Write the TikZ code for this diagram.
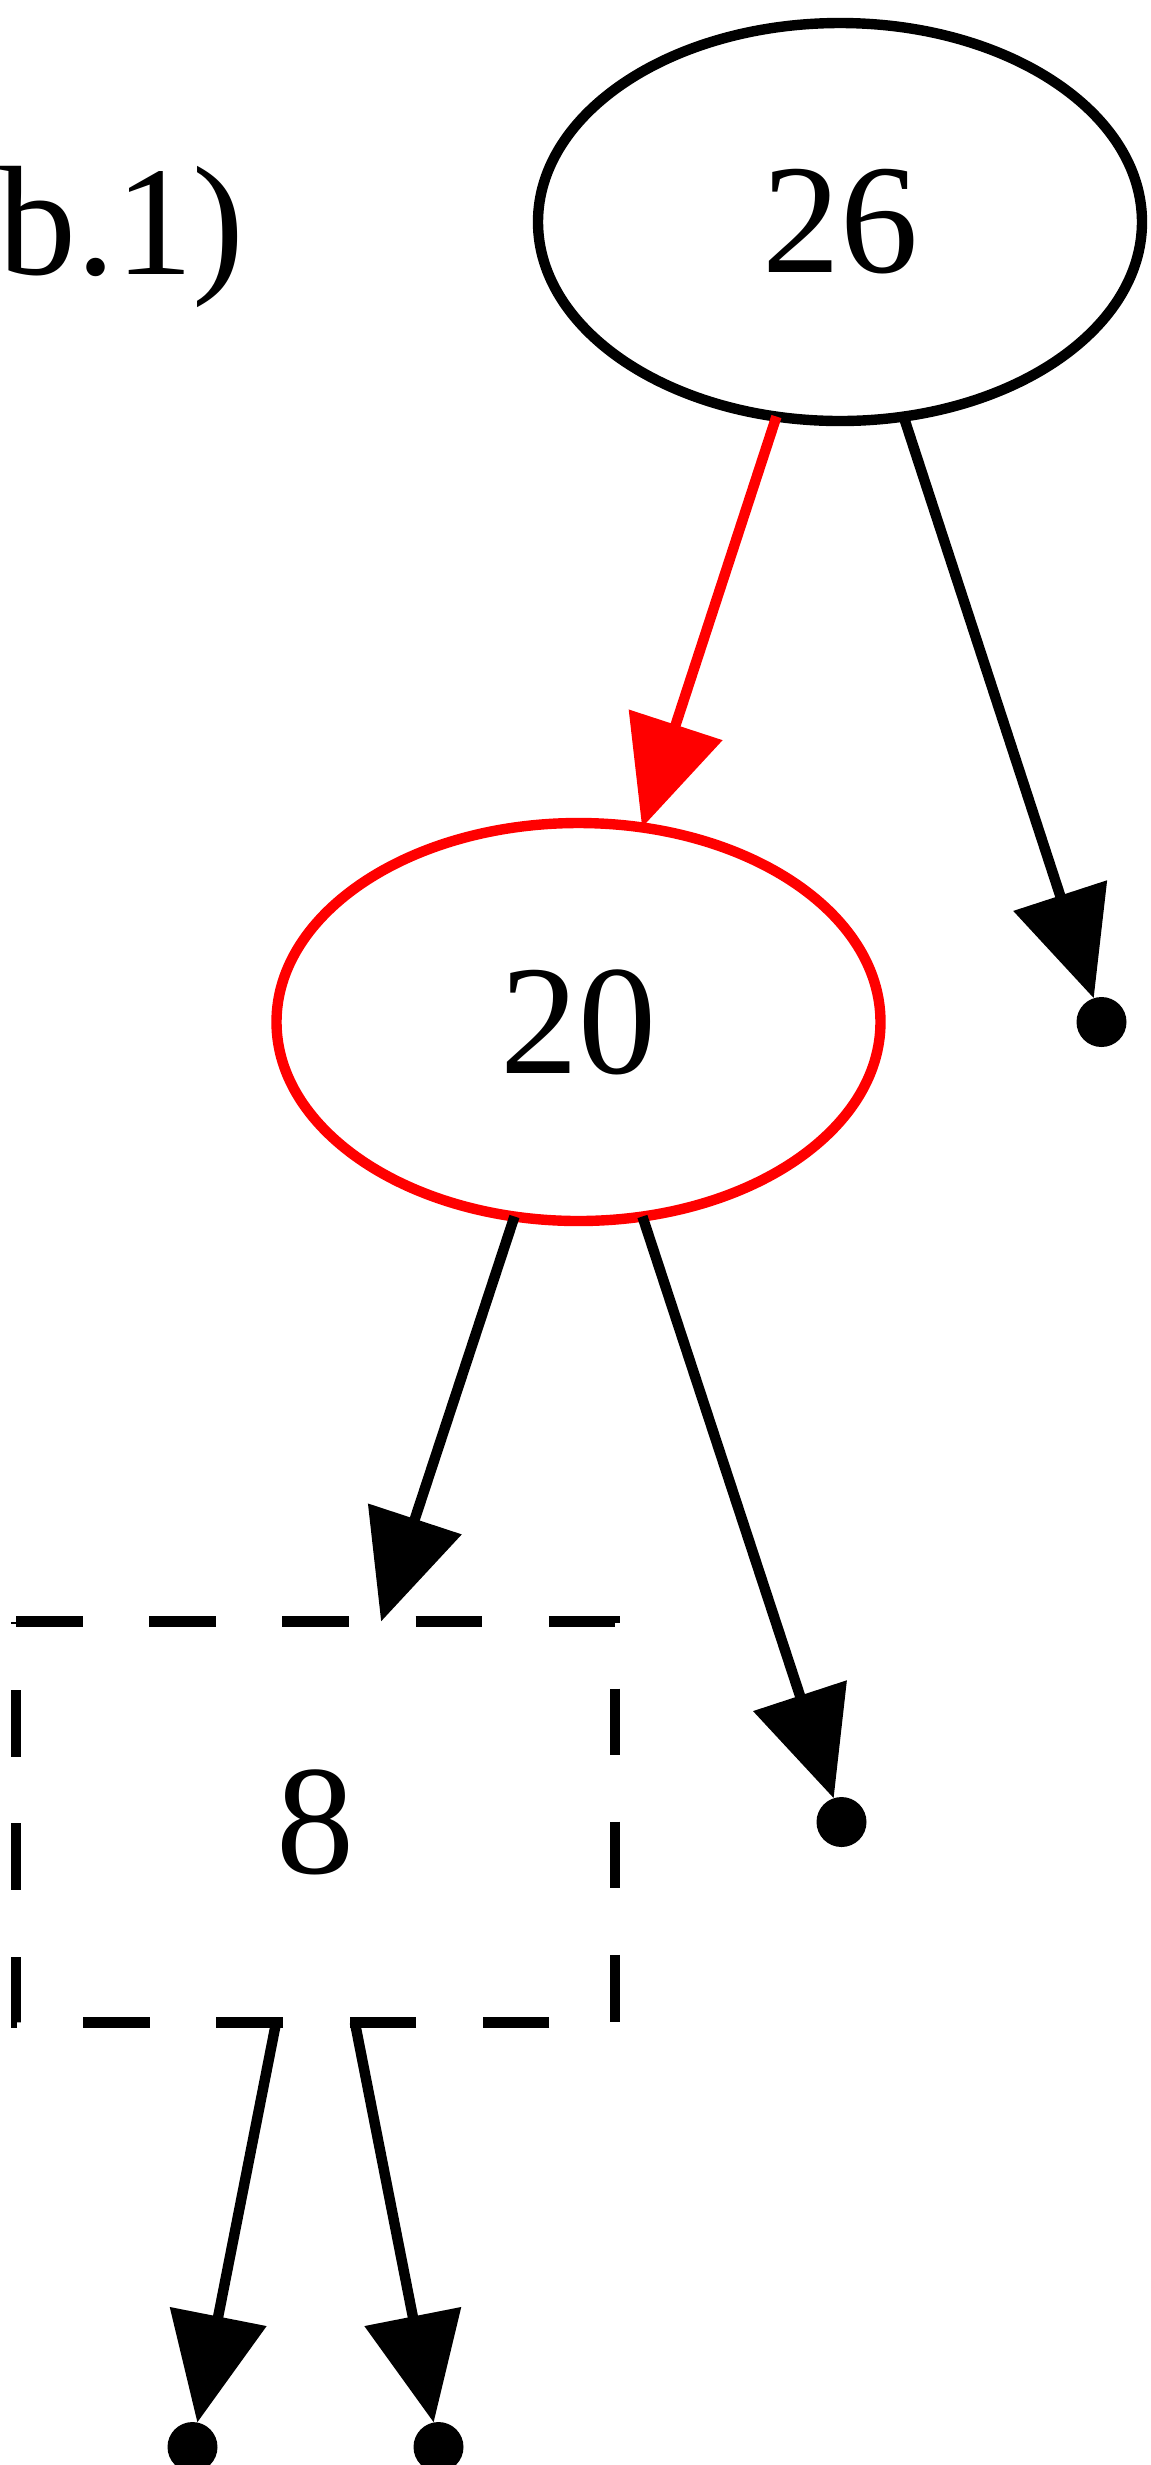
\documentclass[tikz,border=0pt]{standalone}
\usepackage{fontspec}
\setmainfont{Liberation Serif}
\usetikzlibrary{
  arrows.meta,
  shapes
}

\begin{document}
\begin{tikzpicture}[
    level distance=400pt,
    line width=5.2pt,
  every node/.style = {font=\fontsize{78}{94}\selectfont,
    inner sep=0pt, outer sep=0pt},
  key/.style = {shape=ellipse, draw, minimum width=302pt, minimum height=199pt},
  cut/.style = {shape=rectangle, minimum width=299.5pt, minimum height=200.5pt},
  nil/.style = {shape=circle, fill, minimum size=25pt},
  edge from parent/.style = {draw, -{Triangle[length=54pt,width=48pt]}}]
    \tikzstyle{level 1}=[sibling distance=261.5pt]
    \tikzstyle{level 2}=[sibling distance=263pt]
    \tikzstyle{level 3}=[sibling distance=123pt, level distance=312.5pt]
  \useasboundingbox (0pt,0pt) rectangle (575.5pt,-1232.5pt);
  \node[anchor=base west] (label) at (-1pt,-137pt) {b.1)};
  \node[key] (n26) at (420pt,-111pt) {26}
    child { node[key, draw=red] (n20) {20}
      child[black] { node[cut] (n8) {8}
        child { node[nil] (l1) {} }
        child { node[nil] (l2) {} } }
      child[black] { node[nil] (l3) {} }
      edge from parent[red] }
    child { node[nil] (l4) {} };
  \draw[dash pattern=on 33.3pt off 33.3pt] (n8.north west) -- (n8.north east)
    -- (n8.south east) -- (n8.south west) -- cycle;
\end{tikzpicture}
\end{document}
